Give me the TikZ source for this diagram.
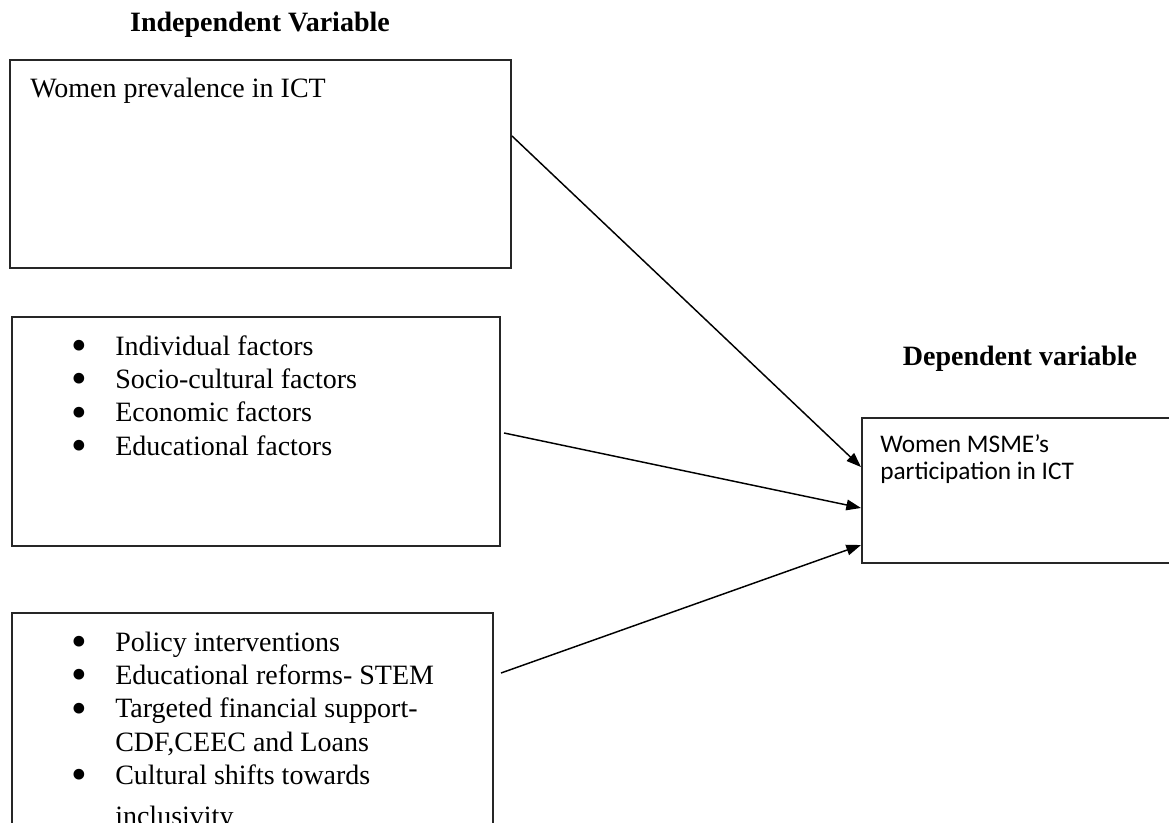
\documentclass[tikz,border=0pt]{standalone}
\usepackage{graphicx}
\usepackage{fontspec}
\setmainfont{Liberation Serif}
\newfontfamily\calibrifont{Carlito}
\usetikzlibrary{arrows.meta,positioning,fit}
\newcommand{\listdot}{\makebox[30.75pt][l]{\hspace*{-2.2pt}\raisebox{-4pt}{\scalebox{1.6}{\textbullet}}}}

\begin{document}
\begin{tikzpicture}[x=0.75pt,y=-0.75pt,
	varbox/.style={draw,line width=1.5pt,draw=black!85,inner sep=0pt},
	head/.style={font=\fontsize{21}{25}\selectfont\bfseries,anchor=base,inner sep=0pt},
	body/.style={font=\fontsize{21}{25}\selectfont,anchor=base west,inner sep=0pt},
	link/.style={line width=1.1pt,-{Triangle[length=11pt,width=8pt]}}]
	\useasboundingbox (0,0) rectangle (1169,822);
	\clip (0,0) rectangle (1169,822);
	% boxes
	\node[varbox,fit={(10,60) (511,268)}] (prevbox) {};
	\node[varbox,fit={(12,317) (500,546)}] (factbox) {};
	\node[varbox,fit={(12,613) (493,900)}] (polbox) {};
	\node[varbox,fit={(862,418) (1190,563)}] (partbox) {};
	% titles
	\node[head] at (260,31) (indeptitle) {Independent Variable};
	\node[head] at (1020,365) (deptitle) {Dependent variable};
	% box texts
	\node[body] at (30,97) (prevtext) {Women prevalence in ICT};
	\node[body] at (74,355) (facttext) {\begin{tabular}[t]{@{}l@{}}
		\listdot Individual factors\\
		\listdot Socio-cultural factors\\
		\listdot Economic factors\\
		\listdot Educational factors
	\end{tabular}};
	\node[body] at (74,651) (poltext) {\begin{tabular}[t]{@{}l@{}}
		\listdot Policy interventions\\
		\listdot Educational reforms- STEM\\
		\listdot Targeted financial support-\\
		\hspace*{30.75pt}CDF,CEEC and Loans\\
		\listdot Cultural shifts towards\\[5.5pt]
		\hspace*{30.75pt}inclusivity
	\end{tabular}};
	\node[body,font=\calibrifont\fontsize{19}{20.6}\selectfont] at (880,452) (parttext) {\begin{tabular}[t]{@{}l@{}}
		Women MSME’s\\
		participation in ICT
	\end{tabular}};
	% arrows
	\draw[link] ([yshift=21pt]prevbox.east) -- ([yshift=17.6pt]partbox.west);
	\draw[link] ([xshift=2.25pt,yshift=-1.1pt]factbox.east) -- ([yshift=-13.1pt]partbox.west);
	\draw[link] ([xshift=5.25pt,yshift=-45.75pt]polbox.north east) -- ([yshift=-40.9pt]partbox.west);
\end{tikzpicture}
\end{document}
